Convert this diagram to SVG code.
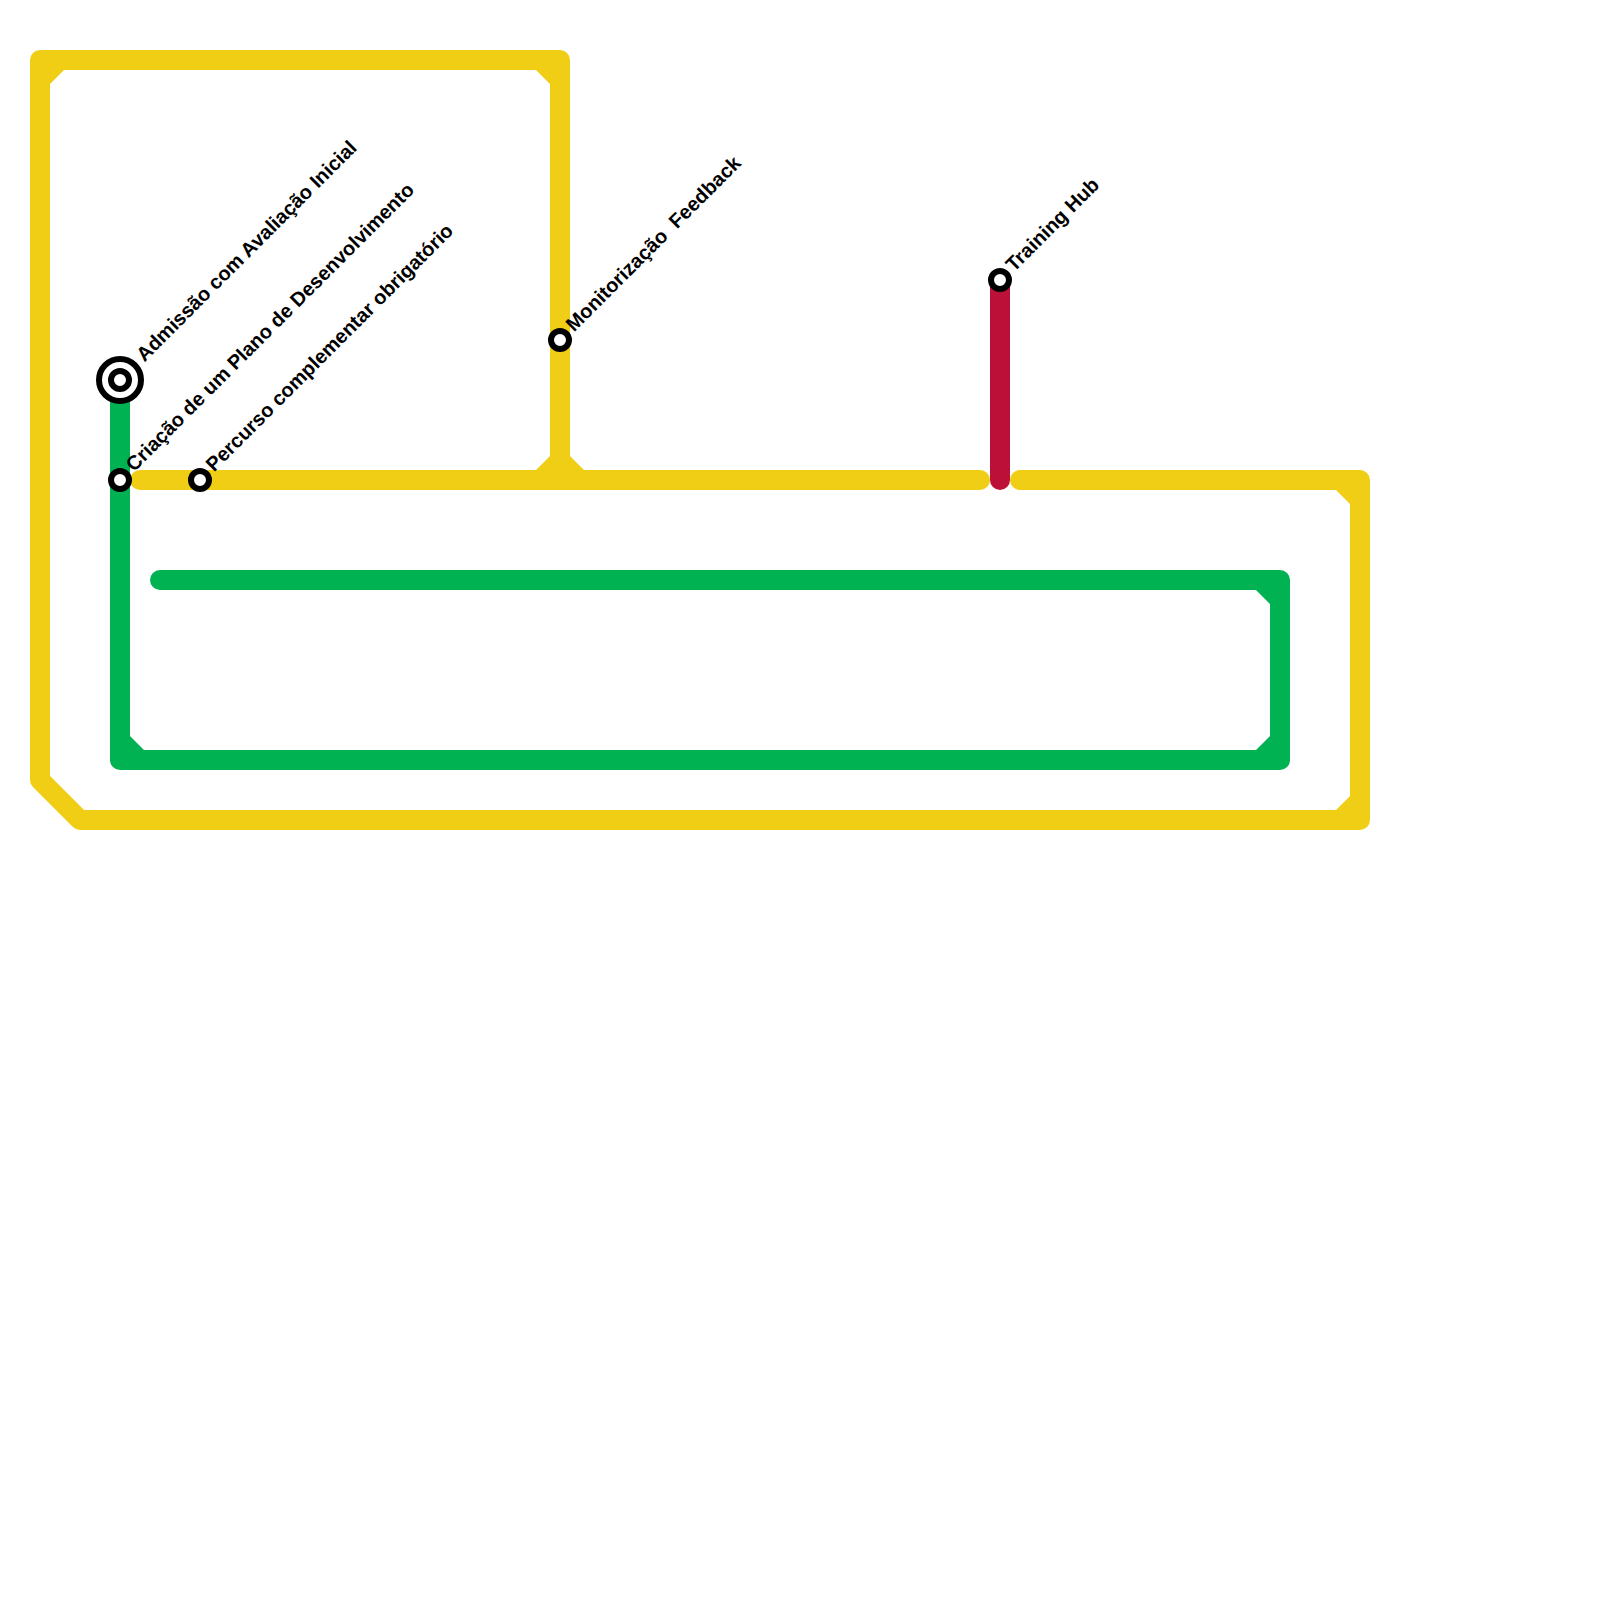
<svg xmlns="http://www.w3.org/2000/svg" width="1600" height="1600" viewBox="0 0 1600 1600">
<style>
.l{fill:none;stroke-width:20;stroke-linecap:round;stroke-linejoin:round}
.y{stroke:#f0ce15}.g{stroke:#00b251}.r{stroke:#bd1038}
.fy{fill:#f0ce15}.fg{fill:#00b251}
.s{fill:#fff;stroke:#000;stroke-width:6}
.o{fill:#fff;stroke:#000;stroke-width:6}
text{font-family:"Liberation Sans",Arial,sans-serif;font-weight:700;font-size:20px;fill:#000;white-space:pre}
</style>
<rect width="1600" height="1600" fill="#fff"/>
<g id="connectors">
<path class="l y" d="M140 480H980"/>
<path class="l y" d="M1020 480H1360V820H80L40 780V60H560V480"/>
<path class="fy" d="M50 84V70H64ZM536 70H550V84ZM550 456V470H536ZM570 456V470H584ZM1336 490H1350V504ZM1350 796V810H1336Z"/>
<path class="l g" d="M120 380V760H1280V580H160"/>
<path class="fg" d="M130 736V750H144ZM1256 590H1270V604ZM1270 736V750H1256Z"/>
<path class="l r" d="M1000 280V480"/>
</g>
<g id="node-admissao"><circle class="o" cx="120" cy="380" r="21"/><circle class="s" cx="120" cy="380" r="9"/><text transform="translate(144.500 362.500) rotate(-45)">Admissão com Avaliação Inicial</text></g>
<g id="node-criacao"><circle class="s" cx="120" cy="480" r="9"/><text transform="translate(134 472.500) rotate(-45)">Criação de um Plano de Desenvolvimento</text></g>
<g id="node-percurso"><circle class="s" cx="200" cy="480" r="9"/><text transform="translate(214 472.500) rotate(-45)">Percurso complementar obrigatório</text></g>
<g id="node-monitorizacao"><circle class="s" cx="560" cy="340" r="9"/><text transform="translate(574 332.500) rotate(-45)">Monitorização  Feedback</text></g>
<g id="node-training"><circle class="s" cx="1000" cy="280" r="9"/><text transform="translate(1014 272.500) rotate(-45)">Training Hub</text></g>
</svg>
